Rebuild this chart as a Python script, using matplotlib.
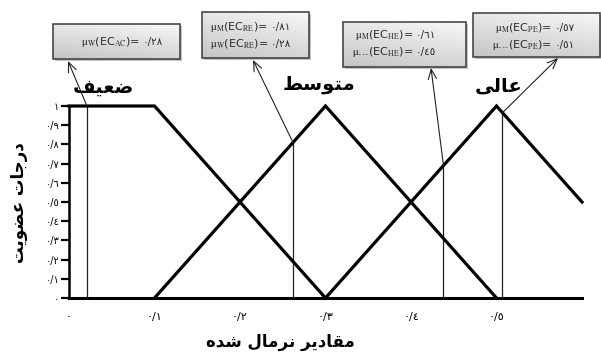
import numpy as np
import matplotlib
matplotlib.use('Agg')
import matplotlib.pyplot as plt
from matplotlib.patches import Rectangle

plt.rcParams['mathtext.fontset'] = 'stix'

# ---------------- data ----------------
x_ticks = [0.0, 0.1, 0.2, 0.3, 0.4, 0.5]
x_tick_labels = ['٠', '٠/١', '٠/٢', '٠/٣', '٠/٤', '٠/٥']
y_ticks = [0.0, 0.1, 0.2, 0.3, 0.4, 0.5, 0.6, 0.7, 0.8, 0.9, 1.0]
y_tick_labels = ['٠', '٠/١', '٠/٢', '٠/٣', '٠/٤', '٠/٥', '٠/٦', '٠/٧', '٠/٨', '٠/٩', '١']

low_x = [0.0, 0.1, 0.3]
low_y = [1.0, 1.0, 0.0]
mid_x = [0.1, 0.3, 0.5]
mid_y = [0.0, 1.0, 0.0]
high_x = [0.3, 0.5, 0.6]
high_y = [0.0, 1.0, 0.5]

obs_x = [0.021, 0.262, 0.438, 0.507]
obs_mu = [1.0, 0.81, 0.69, 0.965]

# Persian labels (shaped with Arabic presentation forms, visual order)
label_low = '\uFED2\uFEF4\uFECC\uFEBF'            # ضعیف
label_mid = '\uFEC2\uFEB3\uFEEE\uFE98\uFEE3'      # متوسط
label_high = '\uFEF0\uFEDF\uFE8E\uFECB'           # عالی
ylabel_txt = '\uFE96\uFEF3\uFEEE\uFEC0\uFECB \uFE95\uFE8E\uFE9F\uFEAD\uFEA9'  # درجات عضویت
xlabel_txt = '\uFEE9\uFEAA\uFEB7 \uFEDD\uFE8E\uFEE3\uFEAE\uFEE7 \uFEAE\uFEF3\uFEA9\uFE8E\uFED8\uFEE3'  # مقادیر نرمال شده

box_exprs = [
    [r'$\mathrm{\mu_{W}}$(EC$_{\mathrm{AC}}$)='],
    [r'$\mathrm{\mu_{M}}$(EC$_{\mathrm{RE}}$)=', r'$\mathrm{\mu_{W}}$(EC$_{\mathrm{RE}}$)='],
    [r'$\mathrm{\mu_{M}}$(EC$_{\mathrm{HE}}$)=', r'$\mathrm{\mu}$...(EC$_{\mathrm{HE}}$)='],
    [r'$\mathrm{\mu_{M}}$(EC$_{\mathrm{PE}}$)=', r'$\mathrm{\mu}$...(EC$_{\mathrm{PE}}$)='],
]
box_values = [
    ['٠/٢٨'],
    ['٠/٨١', '٠/٢٨'],
    ['٠/٦١', '٠/٤٥'],
    ['٠/٥٧', '٠/٥١'],
]

# ---------------- layout (pixels) ----------------
W, H = 601, 361
box_rects = [(53, 24, 180, 59), (202, 12, 309, 58), (343, 22, 466, 67), (473, 13, 600, 57)]
box_line_y = [[42], [27, 44], [35, 52], [28, 45]]
box_split = [140, 268, 413, 552]
arrow_tips = [(68, 61), (253, 60), (431, 68), (558, 58)]

fig = plt.figure(figsize=(W / 100, H / 100), dpi=100)
ax = fig.add_axes([69 / W, (H - 298) / H, 513 / W, 192 / H])
ax.set_xlim(0, 0.6)
ax.set_ylim(0, 1)

lw = 2.3
for xs, ys in [(low_x, low_y), (mid_x, mid_y), (high_x, high_y)]:
    ax.plot(xs, ys, color='black', lw=lw, clip_on=False, solid_joinstyle='miter', zorder=3)

for xv, mv in zip(obs_x, obs_mu):
    ax.plot([xv, xv], [0, mv], color='#222222', lw=0.9, clip_on=False, zorder=2)

for s in ['top', 'right']:
    ax.spines[s].set_visible(False)
ax.spines['left'].set_linewidth(1.8)
ax.spines['bottom'].set_linewidth(2.2)

ax.set_xticks(x_ticks)
ax.set_xticklabels(x_tick_labels, fontsize=8, family=['DejaVu Sans'])
ax.tick_params(axis='x', length=0, pad=10)
ax.set_yticks(y_ticks)
ax.set_yticklabels(y_tick_labels, fontsize=7, family=['DejaVu Sans'])
ax.tick_params(axis='y', length=6, width=1.6, pad=1, direction='out')

# overlay in pixel coordinates
ov = fig.add_axes([0, 0, 1, 1])
ov.set_xlim(0, W)
ov.set_ylim(H, 0)
ov.set_axis_off()
ov.patch.set_visible(False)

# membership labels
ov.text(103, 87, label_low, fontsize=14, fontweight='bold', ha='center', va='center', family=['DejaVu Sans'])
ov.text(319, 85, label_mid, fontsize=14, fontweight='bold', ha='center', va='center', family=['DejaVu Sans'])
ov.text(499, 86, label_high, fontsize=14, fontweight='bold', ha='center', va='center', family=['DejaVu Sans'])
ov.text(19, 203, ylabel_txt, fontsize=12, fontweight='bold', ha='center', va='center', rotation=90, family=['DejaVu Sans'])
ov.text(280, 342, xlabel_txt, fontsize=12, fontweight='bold', ha='center', va='center', family=['DejaVu Sans'])

# boxes
grad = np.linspace(0, 1, 64)
gx, gy = np.meshgrid(grad, grad)
g = 0.97 - 0.2 * (0.7 * gy + 0.3 * (1 - gx))
for (x0, y0, x1, y1), exprs, vals, ly, sx in zip(box_rects, box_exprs, box_values, box_line_y, box_split):
    ov.add_patch(Rectangle((x0 + 2, y0 + 2), x1 - x0, y1 - y0, facecolor='#9a9a9a', edgecolor='none', zorder=4, alpha=0.6))
    ov.imshow(g, cmap='gray', vmin=0, vmax=1, extent=(x0, x1, y1, y0), aspect='auto', zorder=5, interpolation='bilinear')
    ov.add_patch(Rectangle((x0, y0), x1 - x0, y1 - y0, facecolor='none', edgecolor='#3a3a3a', lw=1.1, zorder=6))
    for e, v, yy in zip(exprs, vals, ly):
        ov.text(sx, yy, e, fontsize=8, ha='right', va='center', color='#2a2a2a', family=['DejaVu Sans'], zorder=7)
        ov.text(sx + 3, yy, v, fontsize=7.5, ha='left', va='center', color='#2a2a2a', family=['DejaVu Sans'], zorder=7)

ov.set_xlim(0, W)
ov.set_ylim(H, 0)

# arrows from curve points to boxes
for (xv, mv), tip in zip(zip(obs_x, obs_mu), arrow_tips):
    ov.annotate('', xy=tip, xycoords='data', xytext=(xv, mv), textcoords=ax.transData,
                arrowprops=dict(arrowstyle='->,head_length=0.7,head_width=0.3', color='#222222', lw=0.8,
                                shrinkA=0, shrinkB=0), zorder=8)

fig.savefig('out.png', dpi=100)
